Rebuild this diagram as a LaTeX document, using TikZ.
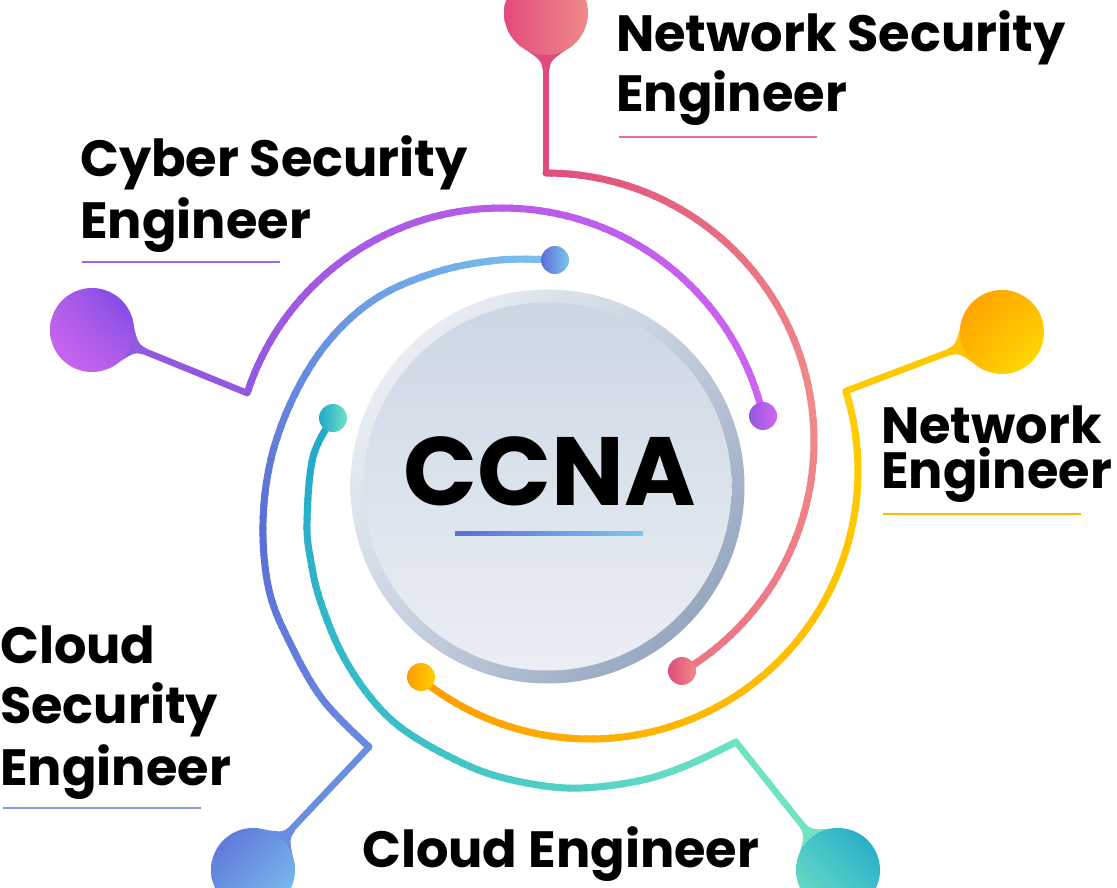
\documentclass[tikz,border=0pt]{standalone}
\usepackage{fontspec}
\setmainfont{Poppins}
\usetikzlibrary{calc,shadings}
\definecolor{pinkA}{HTML}{E04B7C}
\definecolor{pinkB}{HTML}{F08A89}
\definecolor{pinkC}{HTML}{EA7384}
\definecolor{purA}{HTML}{9258DF}
\definecolor{purB}{HTML}{B85BEA}
\definecolor{purC}{HTML}{D066F1}
\definecolor{yelA}{HTML}{FFD000}
\definecolor{yelB}{HTML}{FFBA00}
\definecolor{yelC}{HTML}{FF9C00}
\definecolor{bluA}{HTML}{7CC6EF}
\definecolor{bluB}{HTML}{5B6ED7}
\definecolor{bluC}{HTML}{6A8CE1}
\definecolor{teaA}{HTML}{1FA7CB}
\definecolor{teaB}{HTML}{3DC1C6}
\definecolor{teaC}{HTML}{70E3C3}
\definecolor{ringA}{HTML}{F8FAFC}
\definecolor{ringB}{HTML}{C3CEDD}
\definecolor{ringC}{HTML}{CAD4E1}
\definecolor{ringD}{HTML}{8396B4}
\definecolor{discT}{HTML}{CCD7E4}
\definecolor{discB}{HTML}{EBEEF4}
\newcommand\gradarc[7]{%
  \foreach \k in {0,...,39}{%
    \pgfmathsetmacro\aA{#3+(#4-#3)*(\k-0.15)/40}%
    \pgfmathsetmacro\aB{#3+(#4-#3)*(\k+1.15)/40}%
    \pgfmathtruncatemacro\pp{round(100*(\k+0.5)/40)}%
    \begin{scope}
      \clip (#1,#2) -- ({#1+2000*cos(\aA)},{#2-2000*sin(\aA)}) -- ({#1+2000*cos(\aB)},{#2-2000*sin(\aB)}) -- cycle;
      \draw[arcline, draw=#6!\pp!#5] #7;
    \end{scope}
  }%
}
\newcommand\neck[4]{%
  \fill[#3] ($(#1)+(#2+40:42)$) .. controls ($(#1)+(#2:47)+(#2+90:5)$) .. ($(#1)+(#2:57)+(#2+90:#4)$)
    -- ($(#1)+(#2:57)+(#2-90:#4)$) .. controls ($(#1)+(#2:47)+(#2-90:5)$) .. ($(#1)+(#2-40:42)$) -- cycle;
}
\newcommand\tealpath{plot[smooth, tension=0.6] coordinates {(333,418) (313,457) (307,523) (311,562) (320,600) (340,650) (367,693) (400,727) (450,757) (500,777) (567,788) (633,782) (683,767) (736,742)}}
\newcommand\bluepath{plot[smooth, tension=0.6] coordinates {(555,260) (500,260) (440,271) (380,296) (333,336) (297,390) (272,455) (263,523) (269,590) (290,643) (323,700) (369,747)}}
\begin{document}
\begin{tikzpicture}[x=1pt,y=-1pt,
  arcline/.style={line width=7pt, line cap=round},
  leg/.style={line width=6.5pt, line cap=round},
  ball/.style={circle, inner sep=0pt, minimum size=84pt},
  sball/.style={circle, inner sep=0pt, minimum size=28pt},
  lbl/.style={anchor=base west, inner sep=0pt, font=\fontsize{51}{60}\selectfont\bfseries},
  uline/.style={line width=1.3pt}]
\useasboundingbox (0,0) rectangle (1117,888);
\fill[white] (0,0) rectangle (1117,888);
\clip (0,0) rectangle (1117,888);

% central CCNA disc
\node[circle, inner sep=0pt, minimum size=394pt, upper left=ringA, upper right=ringB, lower left=ringC, lower right=ringD] (ring) at (547.5,486.5) {};
\node[circle, inner sep=0pt, minimum size=368pt, top color=discT, bottom color=discB] (disc) at (547.5,486.5) {};
\node[anchor=base, inner sep=0pt, font=\fontsize{97}{100}\selectfont\bfseries] (ccna) at (550,505) {CCNA};
\shade[left color=bluB, right color=bluA] (455,531) rectangle (643,535);

% coordinates
\coordinate (pb) at (546,13);   \coordinate (pc) at (546,173);  \coordinate (pe) at (682,671);
\coordinate (vb) at (92,330);   \coordinate (vc) at (247,393);  \coordinate (ve) at (763,416);
\coordinate (yb) at (1002,332); \coordinate (yc) at (846,391);  \coordinate (ye) at (421,677);
\coordinate (bb) at (253,870);  \coordinate (bc) at (369,747);  \coordinate (be) at (555,260);
\coordinate (tb) at (838,870);  \coordinate (tc) at (736,742);  \coordinate (te) at (333,418);

% arcs
\gradarc{546}{441}{93}{10}{pinkA}{pinkB}{plot[domain=90:-59.5, samples=90, variable=\t] ({546+268*cos(\t)},{441-268*sin(\t)})}
\gradarc{546}{441}{10}{-63}{pinkB}{pinkC}{plot[domain=90:-59.5, samples=90, variable=\t] ({546+268*cos(\t)},{441-268*sin(\t)})}
\gradarc{502}{476}{165}{90}{purA}{purB}{plot[domain=161.9:12.9, samples=90, variable=\t] ({502+268*cos(\t)},{476-268*sin(\t)})}
\gradarc{502}{476}{90}{9}{purB}{purC}{plot[domain=161.9:12.9, samples=90, variable=\t] ({502+268*cos(\t)},{476-268*sin(\t)})}
\gradarc{590}{471}{21}{-60}{yelA}{yelB}{plot[domain=17.3:-129.5, samples=90, variable=\t] ({590+268*cos(\t)},{471-268*sin(\t)})}
\gradarc{590}{471}{-60}{-133}{yelB}{yelC}{plot[domain=17.3:-129.5, samples=90, variable=\t] ({590+268*cos(\t)},{471-268*sin(\t)})}
\gradarc{530}{528}{81}{180}{bluA}{bluB}{\bluepath}
\gradarc{530}{528}{180}{238}{bluB}{bluC}{\bluepath}
\gradarc{560}{510}{154}{240}{teaA}{teaB}{\tealpath}
\gradarc{560}{510}{240}{311}{teaB}{teaC}{\tealpath}

% legs and necks
\draw[leg, draw=pinkA] (pb) -- (pc);
\draw[leg, draw=purA] (vb) -- (vc);
\draw[leg, draw=yelA!70!yelB] (yb) -- (yc);
\draw[leg, draw=bluC] (bc) -- (bb);
\draw[leg, draw=teaC] (tc) -- (tb);
\neck{pb}{90}{pinkA}{3.3}
\neck{vb}{22}{purA}{3.3}
\neck{yb}{159.3}{yelA!40!yelB}{3.3}
\neck{bb}{-46.2}{bluC}{3.3}
\neck{tb}{-128.6}{teaC}{3.3}

% big balls
\node[ball, left color=pinkA, right color=pinkB] (nseball) at (pb) {};
\node[ball, upper right=purA!80!blue, lower left=purC, upper left=purA!50!purC, lower right=purA!50!purC] (cyball) at (vb) {};
\node[ball, upper left=yelC, lower right=yelA!60!yellow, upper right=yelB, lower left=yelB] (neball) at (yb) {};
\node[ball, upper left=bluB, lower right=bluA, upper right=bluB!50!bluA, lower left=bluB!50!bluA] (csball) at (bb) {};
\node[ball, upper right=teaA, lower left=teaC, upper left=teaA!50!teaC, lower right=teaA!50!teaC] (ceball) at (tb) {};

% small end balls
\node[sball, left color=pinkA, right color=pinkB] (nseend) at (pe) {};
\node[sball, left color=purA, right color=purC] (cyend) at (ve) {};
\node[sball, left color=yelC, right color=yelA] (neend) at (ye) {};
\node[sball, left color=bluB, right color=bluA] (csend) at (be) {};
\node[sball, left color=teaA, right color=teaC] (ceend) at (te) {};

% labels
\node[lbl] (nse1) at (616,52) {Network Security};
\node[lbl] (nse2) at (616,112) {Engineer};
\draw[uline, draw=pinkA!80!white] (619,137) -- (817,137);
\node[lbl] (cy1) at (80,177) {Cyber Security};
\node[lbl] (cy2) at (80,238) {Engineer};
\draw[uline, draw=purB!70!blue!80!white] (82,262) -- (280,262);
\node[lbl, text depth=0pt] (ne1) at (881,443) {Network};
\node[lbl, text height=37pt] (ne2) at (881,488) {Engineer};
\draw[uline, draw=yelB] (883,514) -- (1081,514);
\node[lbl] (cs1) at (0,663) {Cloud};
\node[lbl] (cs2) at (0,723) {Security};
\node[lbl] (cs3) at (0,785) {Engineer};
\draw[uline, draw=bluB!70!white] (3,808) -- (201,808);
\node[lbl] (ce1) at (362,867) {Cloud Engineer};
\end{tikzpicture}
\end{document}
